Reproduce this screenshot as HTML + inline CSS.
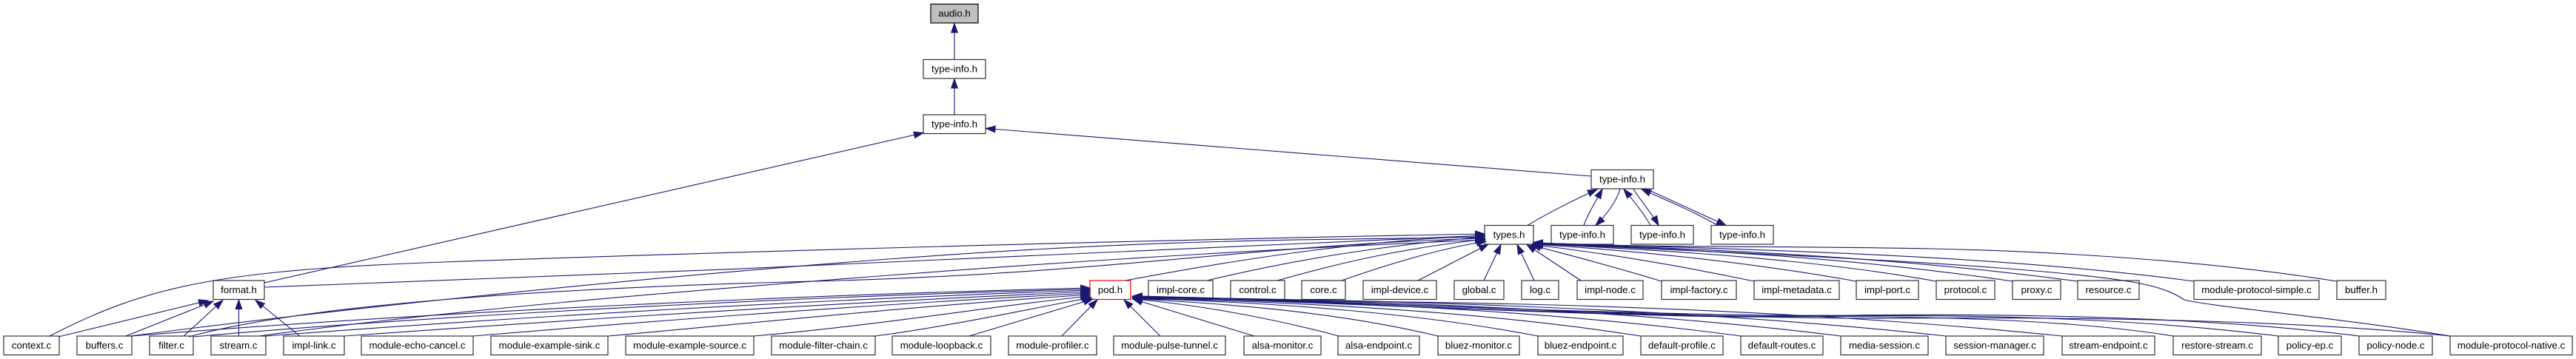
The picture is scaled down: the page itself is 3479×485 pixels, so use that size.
<!DOCTYPE html>
<html><head><meta charset="utf-8"><style>
html,body{margin:0;padding:0;background:#fff}
svg{display:block}
.b rect{fill:#fff;stroke:#333;stroke-width:1.2}
.t text{font-family:"Liberation Sans",Arial,sans-serif;font-size:13.3px;fill:#000;text-anchor:middle}
.e path{fill:none;stroke:#191970;stroke-width:1.1}
</style></head><body>
<svg xmlns="http://www.w3.org/2000/svg" width="3479" height="485" viewBox="0 0 3479 485">
<defs><marker id="a" markerWidth="15" markerHeight="12" refX="13" refY="5" orient="auto" markerUnits="userSpaceOnUse"><path d="M0,0.5 L13,5 L0,9.5 Z" fill="#191970" stroke="#191970" stroke-width="1"/></marker></defs>

<g class="b">
<rect x="1257" y="5.5" width="64" height="25.5" style="fill:#bfbfbf;stroke:#000"/>
<rect x="1247" y="80.5" width="84" height="25.5"/>
<rect x="1247" y="155" width="84" height="25.5"/>
<rect x="2149" y="229.5" width="84" height="25.5"/>
<rect x="2005" y="304.5" width="66" height="25.5"/>
<rect x="2095" y="304.5" width="84" height="25.5"/>
<rect x="2203" y="304.5" width="84" height="25.5"/>
<rect x="2311" y="304.5" width="84" height="25.5"/>

<rect x="288" y="379" width="69" height="25.5"/>
<rect x="1472" y="379" width="55" height="25.5" style="stroke:#f00"/>
<rect x="1551" y="379" width="87" height="25.5"/>
<rect x="1662" y="379" width="73" height="25.5"/>
<rect x="1758" y="379" width="59" height="25.5"/>
<rect x="1841" y="379" width="99" height="25.5"/>
<rect x="1964" y="379" width="67" height="25.5"/>
<rect x="2055" y="379" width="50" height="25.5"/>
<rect x="2130" y="379" width="89" height="25.5"/>
<rect x="2244" y="379" width="101" height="25.5"/>
<rect x="2369" y="379" width="115" height="25.5"/>
<rect x="2507" y="379" width="84" height="25.5"/>
<rect x="2615" y="379" width="79" height="25.5"/>
<rect x="2718" y="379" width="65" height="25.5"/>
<rect x="2806" y="379" width="83" height="25.5"/>
<rect x="2963" y="379" width="169" height="25.5"/>
<rect x="3156" y="379" width="66" height="25.5"/>

<rect x="5" y="454" width="75" height="25.5"/>
<rect x="104" y="454" width="74" height="25.5"/>
<rect x="202" y="454" width="59" height="25.5"/>
<rect x="285" y="454" width="74" height="25.5"/>
<rect x="383" y="454" width="82" height="25.5"/>
<rect x="488" y="454" width="151" height="25.5"/>
<rect x="663" y="454" width="158" height="25.5"/>
<rect x="845" y="454" width="173" height="25.5"/>
<rect x="1042" y="454" width="140" height="25.5"/>
<rect x="1205" y="454" width="133" height="25.5"/>
<rect x="1362" y="454" width="119" height="25.5"/>
<rect x="1504" y="454" width="151" height="25.5"/>
<rect x="1680" y="454" width="104" height="25.5"/>
<rect x="1807" y="454" width="110" height="25.5"/>
<rect x="1942" y="454" width="110" height="25.5"/>
<rect x="2077" y="454" width="115" height="25.5"/>
<rect x="2216" y="454" width="111" height="25.5"/>
<rect x="2351" y="454" width="111" height="25.5"/>
<rect x="2486" y="454" width="118" height="25.5"/>
<rect x="2628" y="454" width="132" height="25.5"/>
<rect x="2785" y="454" width="125" height="25.5"/>
<rect x="2935" y="454" width="119" height="25.5"/>
<rect x="3077" y="454" width="85" height="25.5"/>
<rect x="3186" y="454" width="99" height="25.5"/>
<rect x="3309" y="454" width="165" height="25.5"/>
</g>

<g class="t">
<text x="1289" y="22.5">audio.h</text>
<text x="1289" y="97.5">type-info.h</text>
<text x="1289" y="172">type-info.h</text>
<text x="2191" y="246.5">type-info.h</text>
<text x="2038" y="321.5">types.h</text>
<text x="2137" y="321.5">type-info.h</text>
<text x="2245" y="321.5">type-info.h</text>
<text x="2353" y="321.5">type-info.h</text>

<text x="322.5" y="396">format.h</text>
<text x="1499.5" y="396">pod.h</text>
<text x="1594.5" y="396">impl-core.c</text>
<text x="1698.5" y="396">control.c</text>
<text x="1787.5" y="396">core.c</text>
<text x="1890.5" y="396">impl-device.c</text>
<text x="1997.5" y="396">global.c</text>
<text x="2080" y="396">log.c</text>
<text x="2174.5" y="396">impl-node.c</text>
<text x="2294.5" y="396">impl-factory.c</text>
<text x="2426.5" y="396">impl-metadata.c</text>
<text x="2549" y="396">impl-port.c</text>
<text x="2654.5" y="396">protocol.c</text>
<text x="2750.5" y="396">proxy.c</text>
<text x="2847.5" y="396">resource.c</text>
<text x="3047.5" y="396">module-protocol-simple.c</text>
<text x="3189" y="396">buffer.h</text>

<text x="42.5" y="471">context.c</text>
<text x="141" y="471">buffers.c</text>
<text x="231.5" y="471">filter.c</text>
<text x="322" y="471">stream.c</text>
<text x="424" y="471">impl-link.c</text>
<text x="563.5" y="471">module-echo-cancel.c</text>
<text x="742" y="471">module-example-sink.c</text>
<text x="931.5" y="471">module-example-source.c</text>
<text x="1112" y="471">module-filter-chain.c</text>
<text x="1271.5" y="471">module-loopback.c</text>
<text x="1421.5" y="471">module-profiler.c</text>
<text x="1579.5" y="471">module-pulse-tunnel.c</text>
<text x="1732" y="471">alsa-monitor.c</text>
<text x="1862" y="471">alsa-endpoint.c</text>
<text x="1997" y="471">bluez-monitor.c</text>
<text x="2134.5" y="471">bluez-endpoint.c</text>
<text x="2271.5" y="471">default-profile.c</text>
<text x="2406.5" y="471">default-routes.c</text>
<text x="2545" y="471">media-session.c</text>
<text x="2694" y="471">session-manager.c</text>
<text x="2847.5" y="471">stream-endpoint.c</text>
<text x="2994.5" y="471">restore-stream.c</text>
<text x="3119.5" y="471">policy-ep.c</text>
<text x="3235.5" y="471">policy-node.c</text>
<text x="3391.5" y="471">module-protocol-native.c</text>
</g>

<g class="e" marker-end="url(#a)">
<!-- top chain -->
<path d="M1289,80.5 L1289,31.5"/>
<path d="M1289,155 L1289,106.5"/>
<path d="M357,382 L1247,179.5"/>
<path d="M2149,238 C1900,218 1600,195 1331.5,173.5"/>
<path d="M2063,304.5 C2090,288 2130,268 2157,256"/>
<path d="M2139,304.5 C2145,288 2155,272 2164,255.5"/>
<path d="M2188,255.5 C2183,272 2170,290 2155,304.5"/>
<path d="M2229,304.5 C2220,288 2205,270 2193,255.5"/>
<path d="M2206,255.5 C2215,270 2232,290 2240,304.5"/>
<path d="M2320,304.5 C2290,287 2245,268 2217,255.5"/>
<path d="M2224,255.5 C2260,272 2300,290 2331,304.5"/>

<!-- to format.h -->
<path d="M79,455 L281,406"/>
<path d="M170,454 L288,407"/>
<path d="M248,454 L301,405.5"/>
<path d="M322.5,454 L322.5,405"/>
<path d="M405,454 L345,405.5"/>

<!-- long edges to types.h (left) -->
<path d="M67,454 C200,385 300,365 600,354 S1500,325 2005,316"/>
<path d="M357,388 C900,370 1500,340 2005,318"/>
<path d="M176,454 C400,425 800,380 1200,350 S1800,325 2005,320"/>
<path d="M255,455 C400,415 700,390 1100,380 S1700,330 2005,322"/>
<path d="M350,454 C600,420 900,395 1200,372 S1750,335 2005,324"/>

<!-- middle row to types.h -->
<path d="M1520,379 C1700,345 1850,325 2005,318"/>
<path d="M1630,379 C1750,350 1880,330 2005,320"/>
<path d="M1725,379 C1820,352 1900,335 2006,323"/>
<path d="M1812,379 C1880,355 1950,335 2007,326"/>
<path d="M1915,379 L2010,330"/>
<path d="M2004,379 L2027,330.5"/>
<path d="M2072,379 L2049,330.5"/>
<path d="M2135,379 L2062,330.5"/>
<path d="M2244,380 C2180,360 2120,345 2068,331"/>
<path d="M2369,380 C2250,355 2150,340 2070,330.5"/>
<path d="M2507,380 C2350,352 2200,338 2071,330"/>
<path d="M2615,380 C2450,350 2250,338 2071,329.5"/>
<path d="M2718,380 C2500,348 2300,337 2071,329"/>
<path d="M2806,380 C2550,346 2300,336 2071,328.5"/>
<path d="M2963,380 C2700,345 2400,338 2071,328"/>
<path d="M3156,380 C3000,355 2800,340 2606,336 S2200,335 2071,327.5"/>
<path d="M3309,454 C3150,428 2990,415 2950,405 C2920,385 2880,376 2700,362 S2200,335 2071,329"/>

<!-- to pod.h -->
<path d="M178,454 C600,420 1100,398 1472,389"/>
<path d="M261,455 C600,425 1100,400 1472,390.5"/>
<path d="M359,454 C700,428 1100,405 1472,392"/>
<path d="M465,454 C800,430 1150,408 1472,394"/>
<path d="M639,454 C900,432 1200,410 1472,396"/>
<path d="M821,454 C1000,438 1250,412 1472,398"/>
<path d="M1018,454 C1200,438 1350,412 1472,400"/>
<path d="M1182,454 C1300,438 1400,415 1474,402"/>
<path d="M1309,454 L1476,404"/>
<path d="M1434,454 L1482,405"/>
<path d="M1567,454 L1518,405"/>
<path d="M1694,454 L1530,404"/>
<path d="M1808,454 C1700,425 1600,410 1530,404"/>
<path d="M1942,454 C1800,420 1650,410 1530,403.5"/>
<path d="M2077,454 C1900,420 1700,408 1530,403"/>
<path d="M2216,454 C2000,420 1750,408 1530,402.5"/>
<path d="M2351,454 C2100,420 1800,406 1530,402"/>
<path d="M2486,454 C2200,418 1850,405 1530,402"/>
<path d="M2628,454 C2300,418 1900,405 1530,401.5"/>
<path d="M2785,454 C2500,425 2200,412 1900,408 S1600,402 1530,401"/>
<path d="M2935,454 C2800,432 2600,426 2400,428 S1700,404 1530,401"/>
<path d="M3077,454 C2900,432 2700,424 2450,427 S1700,404 1530,400.5"/>
<path d="M3186,454 C3000,430 2750,423 2500,426 S1700,403 1530,400"/>
<path d="M3309,454 C3100,432 2800,428 2550,430 S1750,403 1530,400"/>
</g>
</svg>
</body></html>
